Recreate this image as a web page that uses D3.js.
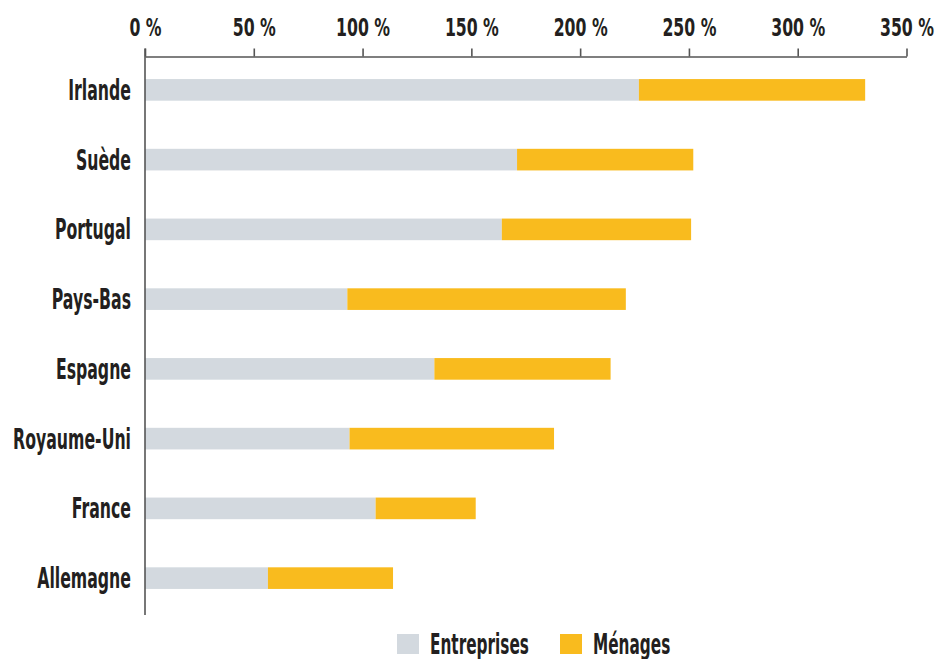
<!DOCTYPE html>
<html><head><meta charset="utf-8">
<script src="https://cdn.jsdelivr.net/npm/d3@7"></script>
<style>
body{margin:0;background:#fff;}
text{font-family:"DejaVu Sans Condensed","DejaVu Sans",sans-serif;font-stretch:condensed;font-weight:bold;fill:#231f20;}
</style></head>
<body><svg id="c" width="949" height="659"></svg>
<script>
const categories = ["Irlande","Suède","Portugal","Pays-Bas","Espagne","Royaume-Uni","France","Allemagne"];
const entreprises = [227, 171, 164, 93, 133, 94, 106, 56.5];
const menages = [104, 81, 87, 128, 81, 94, 46, 57.5];
const seriesNames = ["Entreprises","Ménages"];
const colors = ["#d3d9df","#f9bb1e"];
const tickValues = [0,50,100,150,200,250,300,350];

const svg = d3.select("#c");
const x = d3.scaleLinear().domain([0,350]).range([145,906.5]);
const y = d3.scaleBand().domain(categories).range([55,613]).paddingInner(0.69).paddingOuter(0.345);

const rows = categories.map((c,i)=>({c, e:entreprises[i], m:menages[i]}));

// helper: horizontal squeeze factor so a reference string reaches a given width
function squeeze(sample, size, target){
  const t = svg.append("text").style("font-size", size+"px").text(sample);
  const w = t.node().getComputedTextLength();
  t.remove();
  return target / w;
}
const sxTick = squeeze("350 %", 25, 54);
const sxCat = squeeze("Royaume-Uni", 27.5, 118);
const sxLeg = squeeze("Entreprises", 27.5, 99);

// bars
svg.append("g").selectAll("rect").data(rows).join("rect")
  .attr("x", x(0)).attr("y", d=>y(d.c)).attr("width", d=>x(d.e)-x(0)).attr("height", y.bandwidth())
  .attr("fill", colors[0]);
svg.append("g").selectAll("rect").data(rows).join("rect")
  .attr("x", d=>x(d.e)).attr("y", d=>y(d.c)).attr("width", d=>x(d.e+d.m)-x(d.e)).attr("height", y.bandwidth())
  .attr("fill", colors[1]);

// top axis
const ax = svg.append("g").attr("transform","translate(0,56.5)")
  .call(d3.axisTop(x).tickValues(tickValues).tickSize(8).tickSizeOuter(0).tickFormat(d=>d+" %"));
ax.select(".domain").attr("stroke","#555").attr("stroke-width",1.6);
ax.selectAll(".tick line").attr("stroke","#555").attr("stroke-width",1.6);
ax.selectAll(".tick text").attr("y",0).attr("dy",0)
  .attr("transform",`translate(0,-20.5) scale(${sxTick},1)`)
  .style("font-size","25px").style("font-family",null).attr("font-family",null).attr("fill","#231f20");

// left axis line
svg.append("line").attr("x1",x(0)).attr("x2",x(0)).attr("y1",48.5).attr("y2",615)
  .attr("stroke","#555").attr("stroke-width",1.6);

// category labels
svg.append("g").selectAll("text").data(categories).join("text")
  .attr("transform", d=>`translate(131,${y(d)+y.bandwidth()/2+10}) scale(${sxCat},1)`)
  .attr("text-anchor","end").style("font-size","27.5px").text(d=>d);

// legend
const leg = svg.append("g");
const legX = [397, 560];
seriesNames.forEach((n,i)=>{
  leg.append("rect").attr("x",legX[i]).attr("y",634).attr("width",22).attr("height",20).attr("fill",colors[i]);
  leg.append("text").attr("transform",`translate(${legX[i]+33},653.5) scale(${sxLeg},1)`)
    .style("font-size","27.5px").text(n);
});
</script></body></html>
